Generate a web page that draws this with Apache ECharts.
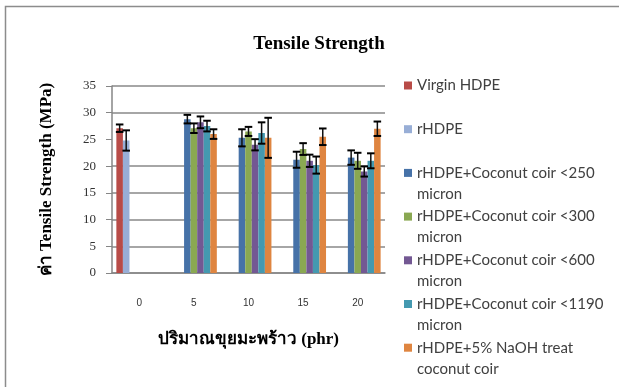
<!DOCTYPE html>
<html>
<head>
<meta charset="utf-8">
<script src="https://cdn.jsdelivr.net/npm/echarts@6/dist/echarts.min.js"></script>
<style>
  html, body { margin: 0; padding: 0; background: #fff; }
  #chart { width: 619px; height: 387px; }
</style>
</head>
<body>
<div id="chart"></div>
<script>
// ปริมาณขุยมะพร้าว (phr)
var categories = ['0', '5', '10', '15', '20'];

var seriesNames = [
	'Virgin HDPE',
	'rHDPE',
	'rHDPE+Coconut coir <250 micron',
	'rHDPE+Coconut coir <300 micron',
	'rHDPE+Coconut coir <600 micron',
	'rHDPE+Coconut coir <1190 micron',
	'rHDPE+5% NaOH treat coconut coir'
];

// Tensile strength (MPa), mean
var virginHdpe = [27.1, null, null, null, null];
var rHdpe      = [24.8, null, null, null, null];
var coir250    = [null, 28.8, 25.3, 21.2, 21.6];
var coir300    = [null, 27.1, 26.5, 23.2, 21.0];
var coir600    = [null, 28.2, 24.0, 21.0, 19.0];
var coir1190   = [null, 27.5, 26.2, 20.2, 21.0];
var naoh       = [null, 26.0, 25.3, 25.5, 27.0];

// standard deviation (error bar)
var virginHdpeErr = [0.7, null, null, null, null];
var rHdpeErr      = [1.9, null, null, null, null];
var coir250Err    = [null, 0.8, 1.6, 1.5, 1.35];
var coir300Err    = [null, 0.9, 0.85, 1.1, 1.5];
var coir600Err    = [null, 1.1, 1.05, 1.15, 0.95];
var coir1190Err   = [null, 1.0, 2.0, 1.6, 1.4];
var naohErr       = [null, 0.9, 3.75, 1.55, 1.35];

var colors = ['#b84b47', '#98aed6', '#4672a8', '#8aa852', '#735893', '#4499b0', '#df8540'];

var values = [virginHdpe, rHdpe, coir250, coir300, coir600, coir1190, naoh];
var errors = [virginHdpeErr, rHdpeErr, coir250Err, coir300Err, coir600Err, coir1190Err, naohErr];

var CAT_GAP = 0.16;
var N = seriesNames.length;

// legend text: wrap like the original (leading blank line keeps the icon on the first line)
var legendText = {
	'Virgin HDPE': ' \nVirgin HDPE\n ',
	'rHDPE': ' \nrHDPE\n ',
	'rHDPE+Coconut coir <250 micron': ' \nrHDPE+Coconut coir <250\nmicron',
	'rHDPE+Coconut coir <300 micron': ' \nrHDPE+Coconut coir <300\nmicron',
	'rHDPE+Coconut coir <600 micron': ' \nrHDPE+Coconut coir <600\nmicron',
	'rHDPE+Coconut coir <1190 micron': ' \nrHDPE+Coconut coir <1190\nmicron',
	'rHDPE+5% NaOH treat coconut coir': ' \nrHDPE+5% NaOH treat\ncoconut coir'
};

var series = [];
seriesNames.forEach(function (name, i) {
	series.push({
		name: name,
		type: 'bar',
		data: values[i].map(function (v) { return v == null ? '-' : v; }),
		itemStyle: { color: colors[i] },
		barGap: '0%',
		barCategoryGap: (CAT_GAP * 100) + '%'
	});
});

// error bars
var errData = [];
values.forEach(function (arr, s) {
	arr.forEach(function (v, c) {
		if (v != null) errData.push([c, s, v, errors[s][c]]);
	});
});

series.push({
	type: 'custom',
	name: 'error',
	z: 10,
	data: errData,
	encode: { x: 0, y: 2 },
	renderItem: function (params, api) {
		var c = api.value(0), s = api.value(1), v = api.value(2), e = api.value(3);
		var band = api.size([1, 0])[0];
		var barW = band * (1 - CAT_GAP) / N;
		var x = api.coord([c, v])[0] + (s - (N - 1) / 2) * barW;
		var hi = api.coord([c, v + e])[1];
		var lo = api.coord([c, v - e])[1];
		var hw = barW / 2 + 0.5;
		return {
			type: 'group',
			children: [
				{ type: 'line', shape: { x1: x, y1: hi, x2: x, y2: lo }, style: { stroke: '#111', lineWidth: 1.5 } },
				{ type: 'line', shape: { x1: x - hw, y1: hi, x2: x + hw, y2: hi }, style: { stroke: '#000', lineWidth: 2 } },
				{ type: 'line', shape: { x1: x - hw, y1: lo, x2: x + hw, y2: lo }, style: { stroke: '#000', lineWidth: 2 } }
			]
		};
	}
});

var myChart = echarts.init(document.getElementById('chart'));

var option = {
	animation: false,
	title: {
		text: 'Tensile Strength',
		left: 314,
		textAlign: 'center',
		top: 30,
		textStyle: { fontFamily: 'Liberation Serif', fontWeight: 'bold', fontSize: 19, color: '#000' }
	},
	graphic: [{
		type: 'rect',
		shape: { x: 5.5, y: 6.5, width: 700, height: 500 },
		style: { fill: 'none', stroke: '#8c8c8c', lineWidth: 1.5 },
		silent: true
	}],
	legend: {
		orient: 'vertical',
		left: 404,
		top: 54,
		padding: 0,
		itemGap: -19.3,
		itemWidth: 8,
		itemHeight: 8,
		icon: 'rect',
		data: seriesNames,
		formatter: function (name) { return legendText[name]; },
		textStyle: {
			fontFamily: 'Lato',
			fontSize: 15,
			color: '#404040',
			lineHeight: 21
		}
	},
	grid: {
		left: 112,
		right: 234,
		top: 86,
		bottom: 114
	},
	xAxis: {
		type: 'category',
		data: categories,
		name: 'ปริมาณขุยมะพร้าว (phr)',
		nameLocation: 'middle',
		nameGap: 58,
		nameTextStyle: { fontFamily: 'Liberation Serif', fontWeight: 'bold', fontSize: 17, color: '#000' },
		axisTick: { show: false },
		axisLine: { lineStyle: { color: '#868686', width: 1.5 } },
		axisLabel: { margin: 25, fontSize: 10, color: '#333', fontFamily: 'Liberation Sans' }
	},
	yAxis: {
		type: 'value',
		min: 0,
		max: 35,
		interval: 5,
		name: 'ค่า Tensile Strength (MPa)',
		nameLocation: 'middle',
		nameGap: 57,
		nameTextStyle: { fontFamily: 'Liberation Serif', fontWeight: 'bold', fontSize: 17, color: '#000' },
		axisLine: { show: true, lineStyle: { color: '#868686', width: 1.5 } },
		axisTick: { show: true, length: 6, lineStyle: { color: '#868686' } },
		axisLabel: { margin: 16, fontSize: 13, color: '#333', fontFamily: 'Liberation Serif' },
		splitLine: {
			lineStyle: {
				color: ['#888', '#888', '#888', '#888', '#888', 'rgba(0,0,0,0)', '#888', '#888'],
				width: 1.5
			}
		}
	},
	series: series
};

myChart.setOption(option);
</script>
</body>
</html>
